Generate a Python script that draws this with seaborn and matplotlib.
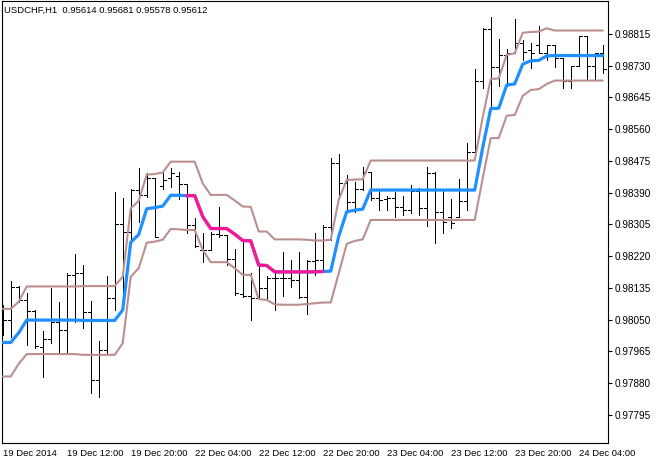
import numpy as np
import matplotlib
matplotlib.use('Agg')
import matplotlib.pyplot as plt
import seaborn as sns

# USDCHF H1 bars, 19 Dec 2014 04:00 onwards
title = "USDCHF,H1  0.95614 0.95681 0.95578 0.95612"
tick_bars = [0, 8, 16, 24, 32, 40, 48, 56, 64, 72]
tick_texts = ["19 Dec 2014", "19 Dec 12:00", "19 Dec 20:00", "22 Dec 04:00", "22 Dec 12:00",
              "22 Dec 20:00", "23 Dec 04:00", "23 Dec 12:00", "23 Dec 20:00", "24 Dec 04:00"]
price_ticks = [0.97795, 0.97880, 0.97965, 0.98050, 0.98135, 0.98220, 0.98305,
               0.98390, 0.98475, 0.98560, 0.98645, 0.98730, 0.98815]

opens = [0.98036, 0.98049, 0.98138, 0.98103, 0.98074, 0.97977, 0.97999, 0.98044, 0.98023, 0.98170,
         0.98175, 0.98071, 0.97889, 0.97969, 0.98108, 0.98306, 0.98285, 0.98397, 0.98384, 0.98430,
         0.98408, 0.98430, 0.98435, 0.98413, 0.98304, 0.98237, 0.98237, 0.98280, 0.98277, 0.98213,
         0.98119, 0.98114, 0.98108, 0.98135, 0.98162, 0.98162, 0.98162, 0.98156, 0.98111, 0.98207,
         0.98210, 0.98298, 0.98470, 0.98416, 0.98365, 0.98400, 0.98446, 0.98376, 0.98373, 0.98376,
         0.98352, 0.98344, 0.98395, 0.98349, 0.98443, 0.98339, 0.98325, 0.98325, 0.98368, 0.98499,
         0.98689, 0.98828, 0.98727, 0.98759, 0.98764, 0.98791, 0.98772, 0.98786, 0.98764, 0.98786,
         0.98751, 0.98689, 0.98729, 0.98810, 0.98729, 0.98764]
highs = [0.98090, 0.98154, 0.98140, 0.98122, 0.98076, 0.98020, 0.98135, 0.98098, 0.98175, 0.98226,
         0.98197, 0.98100, 0.97993, 0.98167, 0.98392, 0.98376, 0.98400, 0.98456, 0.98443, 0.98430,
         0.98448, 0.98456, 0.98446, 0.98413, 0.98322, 0.98282, 0.98285, 0.98352, 0.98277, 0.98239,
         0.98258, 0.98175, 0.98191, 0.98167, 0.98175, 0.98231, 0.98210, 0.98231, 0.98210, 0.98282,
         0.98304, 0.98483, 0.98494, 0.98438, 0.98419, 0.98459, 0.98446, 0.98397, 0.98381, 0.98392,
         0.98381, 0.98411, 0.98403, 0.98459, 0.98446, 0.98397, 0.98373, 0.98427, 0.98523, 0.98721,
         0.98831, 0.98860, 0.98802, 0.98775, 0.98855, 0.98799, 0.98791, 0.98836, 0.98786, 0.98786,
         0.98751, 0.98729, 0.98810, 0.98810, 0.98764, 0.98786]
lows = [0.98009, 0.98004, 0.98098, 0.97982, 0.97974, 0.97897, 0.97988, 0.97964, 0.97961, 0.98044,
        0.98028, 0.97854, 0.97843, 0.97958, 0.98076, 0.98090, 0.98264, 0.98312, 0.98379, 0.98272,
        0.98400, 0.98405, 0.98373, 0.98282, 0.98245, 0.98205, 0.98237, 0.98272, 0.98197, 0.98116,
        0.98111, 0.98049, 0.98106, 0.98106, 0.98076, 0.98114, 0.98138, 0.98108, 0.98065, 0.98170,
        0.98178, 0.98264, 0.98376, 0.98339, 0.98339, 0.98397, 0.98371, 0.98344, 0.98344, 0.98325,
        0.98330, 0.98336, 0.98330, 0.98301, 0.98256, 0.98282, 0.98296, 0.98325, 0.98344, 0.98494,
        0.98670, 0.98614, 0.98676, 0.98676, 0.98764, 0.98745, 0.98724, 0.98764, 0.98745, 0.98727,
        0.98670, 0.98670, 0.98729, 0.98692, 0.98692, 0.98711]
closes = [0.98049, 0.98138, 0.98103, 0.98074, 0.97980, 0.97999, 0.98044, 0.98023, 0.98170, 0.98175,
          0.98071, 0.97889, 0.97969, 0.98108, 0.98306, 0.98285, 0.98397, 0.98384, 0.98430, 0.98272,
          0.98424, 0.98443, 0.98413, 0.98304, 0.98248, 0.98237, 0.98280, 0.98277, 0.98213, 0.98122,
          0.98114, 0.98108, 0.98135, 0.98162, 0.98162, 0.98162, 0.98156, 0.98111, 0.98207, 0.98210,
          0.98298, 0.98470, 0.98416, 0.98365, 0.98400, 0.98446, 0.98376, 0.98371, 0.98376, 0.98352,
          0.98344, 0.98395, 0.98349, 0.98443, 0.98339, 0.98312, 0.98309, 0.98368, 0.98499, 0.98689,
          0.98828, 0.98727, 0.98759, 0.98764, 0.98791, 0.98767, 0.98764, 0.98764, 0.98786, 0.98751,
          0.98689, 0.98729, 0.98810, 0.98729, 0.98764, 0.98721]

# channel indicator
upper = [0.98079, 0.98079, 0.98098, 0.98139, 0.98139, 0.98139, 0.98139, 0.98139, 0.98139, 0.98139,
         0.98140, 0.98140, 0.98140, 0.98140, 0.98140, 0.98165, 0.98348, 0.98368, 0.98438, 0.98440,
         0.98444, 0.98473, 0.98473, 0.98473, 0.98473, 0.98415, 0.98384, 0.98384, 0.98384, 0.98369,
         0.98353, 0.98352, 0.98286, 0.98286, 0.98265, 0.98265, 0.98265, 0.98265, 0.98264, 0.98262,
         0.98262, 0.98264, 0.98371, 0.98424, 0.98425, 0.98426, 0.98476, 0.98476, 0.98476, 0.98476,
         0.98476, 0.98476, 0.98476, 0.98476, 0.98476, 0.98476, 0.98476, 0.98476, 0.98476, 0.98476,
         0.98592, 0.98694, 0.98696, 0.98759, 0.98763, 0.98818, 0.98820, 0.98821, 0.98830, 0.98824,
         0.98824, 0.98824, 0.98824, 0.98824, 0.98824, 0.98824]
lower = [0.97898, 0.97898, 0.97932, 0.97958, 0.97958, 0.97958, 0.97958, 0.97958, 0.97958, 0.97958,
         0.97956, 0.97956, 0.97956, 0.97956, 0.97956, 0.97987, 0.98165, 0.98188, 0.98256, 0.98259,
         0.98264, 0.98293, 0.98292, 0.98290, 0.98290, 0.98237, 0.98204, 0.98204, 0.98204, 0.98188,
         0.98170, 0.98170, 0.98105, 0.98103, 0.98091, 0.98090, 0.98090, 0.98090, 0.98092, 0.98094,
         0.98096, 0.98096, 0.98174, 0.98253, 0.98261, 0.98265, 0.98317, 0.98317, 0.98317, 0.98317,
         0.98317, 0.98317, 0.98317, 0.98317, 0.98317, 0.98317, 0.98317, 0.98317, 0.98317, 0.98317,
         0.98429, 0.98536, 0.98536, 0.98596, 0.98598, 0.98649, 0.98665, 0.98667, 0.98681, 0.98690,
         0.98690, 0.98690, 0.98690, 0.98690, 0.98690, 0.98690]
middle = [0.97989, 0.97989, 0.98015, 0.98049, 0.98049, 0.98049, 0.98049, 0.98049, 0.98049, 0.98049,
          0.98048, 0.98048, 0.98048, 0.98048, 0.98048, 0.98076, 0.98257, 0.98278, 0.98347, 0.98350,
          0.98354, 0.98383, 0.98383, 0.98382, 0.98382, 0.98326, 0.98294, 0.98294, 0.98294, 0.98279,
          0.98262, 0.98261, 0.98196, 0.98195, 0.98178, 0.98178, 0.98178, 0.98178, 0.98178, 0.98178,
          0.98179, 0.98180, 0.98273, 0.98339, 0.98343, 0.98346, 0.98397, 0.98397, 0.98397, 0.98397,
          0.98397, 0.98397, 0.98397, 0.98397, 0.98397, 0.98397, 0.98397, 0.98397, 0.98397, 0.98397,
          0.98511, 0.98615, 0.98616, 0.98678, 0.98681, 0.98734, 0.98743, 0.98744, 0.98756, 0.98757,
          0.98757, 0.98757, 0.98757, 0.98757, 0.98757, 0.98757]
# bars where the middle line is drawn in the "down" colour
down_first, down_last = 23, 40

sns.set_style('white')
plt.rcParams['font.family'] = ['Liberation Sans', 'DejaVu Sans']

fig = plt.figure(figsize=(6.6, 4.65), dpi=100)
ax = fig.add_axes([2 / 660, 1 - 443 / 465, 606 / 660, 442 / 465])

idx = np.arange(len(opens))

# OHLC bars, crisp 1px like the terminal draws them
ax.vlines(idx, lows, highs, color='black', lw=0.55, zorder=2, antialiased=False)
ax.hlines(opens, idx - 0.35, idx, color='black', lw=0.55, zorder=2, antialiased=False)
ax.hlines(closes, idx, idx + 0.35, color='black', lw=0.55, zorder=2, antialiased=False)

# channel lines
band_col = '#BC8F8F'
sns.lineplot(x=idx, y=upper, color=band_col, lw=1.5, ax=ax, estimator=None, sort=False, zorder=3)
sns.lineplot(x=idx, y=lower, color=band_col, lw=1.5, ax=ax, estimator=None, sort=False, zorder=3)
sns.lineplot(x=idx, y=middle, color='#1E90FF', lw=2.3, ax=ax, estimator=None, sort=False, zorder=4)
seg = slice(down_first, down_last + 1)
sns.lineplot(x=idx[seg], y=middle[seg], color='#FF1493', lw=2.3, ax=ax,
             estimator=None, sort=False, zorder=5)

ax.set_xlim(-0.09, 75.66)
ax.set_ylim(0.97720, 0.98903)
ax.set_xlabel('')
ax.set_ylabel('')

ax.set_xticks(tick_bars)
ax.set_xticklabels(tick_texts, fontsize=6.8, ha='left')
ax.set_yticks(price_ticks)
ax.set_yticklabels([f'{p:.5f}' for p in price_ticks], fontsize=7.2)
ax.yaxis.tick_right()
ax.tick_params(axis='y', direction='out', length=3, width=0.8, pad=1.5, colors='black')
ax.tick_params(axis='x', direction='out', length=3, width=0.8, pad=1.5, colors='black')

for side in ['left', 'right', 'top', 'bottom']:
    ax.spines[side].set_visible(True)
    ax.spines[side].set_color('black')
    ax.spines[side].set_linewidth(0.8)

fig.text(4 / 660, 1 - 10 / 465, title, fontsize=6.8, va='center', ha='left', color='black')

fig.savefig('out.png', dpi=100, facecolor='white')
